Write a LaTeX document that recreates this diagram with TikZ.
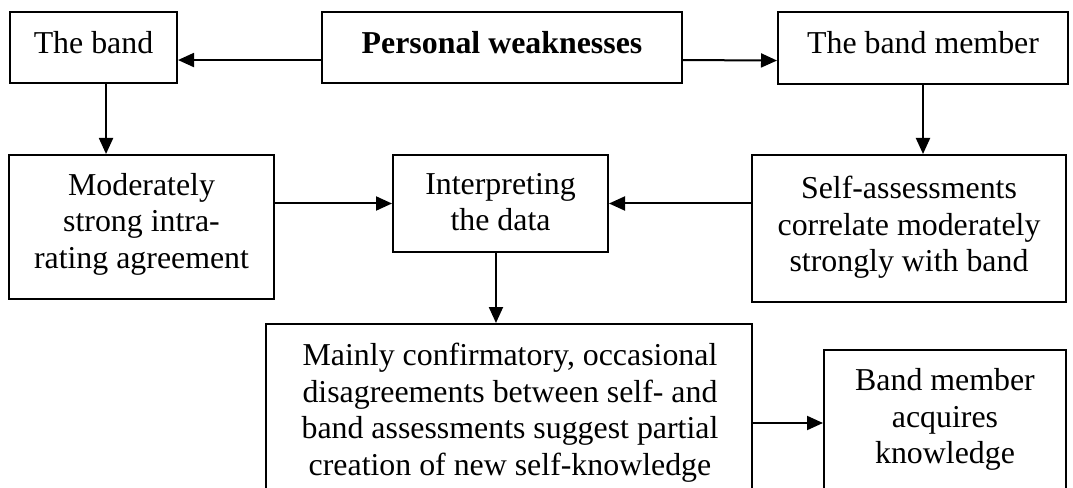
\documentclass[tikz,border=0pt]{standalone}
\usepackage{fontspec}
\setmainfont{Liberation Serif}
\usetikzlibrary{arrows.meta,fit,calc}

\tikzset{
  box/.style={draw, line width=1.5pt, inner sep=0pt},
  txt/.style={anchor=north, inner sep=0pt, align=center,
    font=\fontsize{23.9}{27.4}\selectfont},
  arr/.style={draw, line width=1.5pt, -{Triangle[length=12pt,width=10.5pt]}}
}

\begin{document}
\begin{tikzpicture}[x=0.75pt,y=-0.75pt]
  \clip (0,0) rectangle (1073,488);
  \fill[white] (0,0) rectangle (1073,488);

  % boxes (pixel coordinates, y downwards)
  \node[box, fit={(10,12) (177,83)}]    (band)   {};
  \node[box, fit={(322,12) (682,83)}]   (pw)     {};
  \node[box, fit={(778,12) (1068,84)}]  (member) {};
  \node[box, fit={(9,155) (274,299)}]   (moder)  {};
  \node[box, fit={(393,155) (608,252)}] (interp) {};
  \node[box, fit={(752,155) (1066,302)}](self)   {};
  \node[box, fit={(266,324) (752,500)}] (mainly) {};
  \node[box, fit={(824,350) (1066,500)}](acq)    {};

  % labels
  \node[txt] (bandT)   at (93.5,31)    {The band};
  \node[txt] (pwT)     at (502,31)     {\bfseries Personal weaknesses};
  \node[txt] (memberT) at (923,31.5)   {The band member};
  \node[txt] (moderT)  at (141.5,173)  {Moderately\\strong intra-\\rating agreement};
  \node[txt] (interpT) at (500.5,173)  {Interpreting\\the data};
  \node[txt] (selfT)   at (909,176)    {Self-assessments\\correlate moderately\\strongly with band};
  \node[txt] (mainlyT) at (510,343)    {Mainly confirmatory, occasional\\disagreements between self- and\\band assessments suggest partial\\creation of new self-knowledge};
  \node[txt] (acqT)    at (945,368.5)  {Band member\\acquires\\knowledge};

  % connector levels
  \coordinate (lowA) at (0,423);

  % connectors
  \draw[arr] ([yshift=-9.4pt]pw.west) -- ([yshift=-9.4pt]band.east);
  \draw[arr] ([yshift=-9.4pt]pw.east) -- ([yshift=-9.4pt]member.west);
  \draw[arr] ([xshift=9.4pt]band.south) -- ([xshift=9.4pt]band.south |- moder.north);
  \draw[arr] (member.south) -- (member.south |- self.north);
  \draw[arr] (moder.east |- interp.west) -- (interp.west);
  \draw[arr] (self.west |- interp.east) -- (interp.east);
  \draw[arr] ([xshift=-3.4pt]interp.south) -- ([xshift=-3.4pt]interp.south |- mainly.north);
  \draw[arr] (mainly.east |- lowA) -- (acq.west |- lowA);
\end{tikzpicture}
\end{document}
